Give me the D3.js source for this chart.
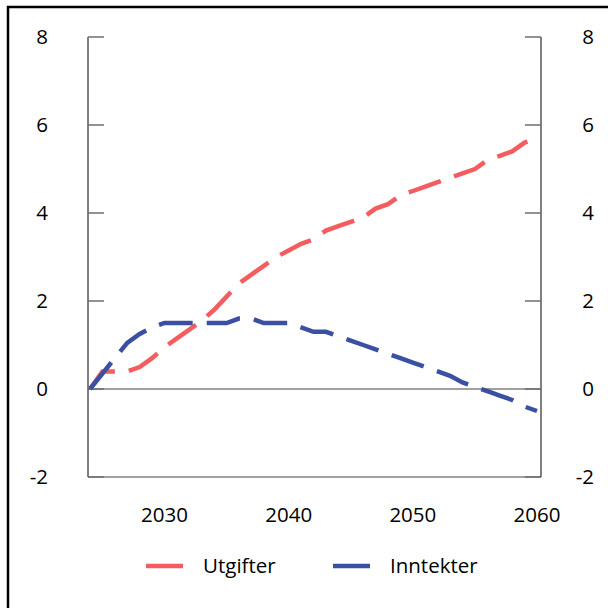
<!DOCTYPE html>
<html>
<head>
<meta charset="utf-8">
<script src="https://cdn.jsdelivr.net/npm/d3@7/dist/d3.min.js"></script>
<style>
  body { margin: 0; background: #fff; }
  svg text { font-family: "Open Sans", sans-serif; fill: #000; }
</style>
</head>
<body>
<svg id="chart" width="608" height="608"></svg>
<script>
var years = d3.range(2024, 2061);
var utgifter = [0, 0.4, 0.4, 0.4, 0.5, 0.7, 0.95, 1.15, 1.35, 1.55, 1.8, 2.1, 2.4, 2.6, 2.8, 3.0, 3.15, 3.3, 3.4, 3.6,
  3.7, 3.8, 3.9, 4.1, 4.2, 4.4, 4.5, 4.6, 4.7, 4.8, 4.9, 5.0, 5.2, 5.3, 5.4, 5.6, 5.7];
var inntekter = [0, 0.35, 0.7, 1.05, 1.25, 1.4, 1.5, 1.5, 1.5, 1.5, 1.5, 1.5, 1.6, 1.6, 1.5, 1.5, 1.5, 1.4, 1.3, 1.3,
  1.2, 1.1, 1.0, 0.9, 0.8, 0.7, 0.6, 0.5, 0.4, 0.3, 0.15, 0.05, -0.05, -0.15, -0.25, -0.4, -0.5];
var yTicks = [-2, 0, 2, 4, 6, 8];
var xTicks = [2030, 2040, 2050, 2060];
var seriesNames = ["Utgifter", "Inntekter"];
var seriesColors = ["#f45d5f", "#3a50a2"];

var svg = d3.select("#chart");
var plotL = 88, plotR = 541, plotT = 37, plotB = 477;
var fs = 20.5;

var x = d3.scaleLinear().domain([2024, 2060]).range([90, 537]);
var y = d3.scaleLinear().domain([-2, 8]).range([plotB, plotT]);

// outer frame
svg.append("rect")
  .attr("x", 8).attr("y", 7).attr("width", 700).attr("height", 700)
  .attr("fill", "none").attr("stroke", "#000").attr("stroke-width", 2.5);

// zero line and bottom line
[0, -2].forEach(function(v){
  svg.append("line")
    .attr("x1", plotL).attr("x2", plotR)
    .attr("y1", y(v)).attr("y2", y(v))
    .attr("stroke", "#808080").attr("stroke-width", 1.5);
});

// left axis
var gl = svg.append("g").attr("transform", "translate(" + plotL + ",0)");
gl.append("line").attr("y1", plotT).attr("y2", plotB).attr("stroke", "#000").attr("stroke-width", 1);
gl.selectAll(".tick").data(yTicks).enter().append("line")
  .attr("x1", 0).attr("x2", 16)
  .attr("y1", function(d){ return y(d); }).attr("y2", function(d){ return y(d); })
  .attr("stroke", "#6e6e6e").attr("stroke-width", 1.5);
svg.selectAll(".ylabL").data(yTicks).enter().append("text")
  .attr("x", 48).attr("y", function(d){ return y(d); })
  .attr("dy", "0.35em").attr("text-anchor", "end")
  .attr("font-size", fs)
  .text(function(d){ return d; });

// right axis
var gr = svg.append("g").attr("transform", "translate(" + plotR + ",0)");
gr.append("line").attr("y1", plotT).attr("y2", plotB).attr("stroke", "#000").attr("stroke-width", 1);
gr.selectAll(".tick").data(yTicks).enter().append("line")
  .attr("x1", 0).attr("x2", -16)
  .attr("y1", function(d){ return y(d); }).attr("y2", function(d){ return y(d); })
  .attr("stroke", "#6e6e6e").attr("stroke-width", 1.5);
svg.selectAll(".ylabR").data(yTicks).enter().append("text")
  .attr("x", 594).attr("y", function(d){ return y(d); })
  .attr("dy", "0.35em").attr("text-anchor", "end")
  .attr("font-size", fs)
  .text(function(d){ return d; });

// x labels
svg.selectAll(".xlab").data(xTicks).enter().append("text")
  .attr("x", function(d){ return x(d); }).attr("y", 515)
  .attr("dy", "0.35em").attr("text-anchor", "middle")
  .attr("font-size", fs)
  .text(function(d){ return d; });

// lines
var line = d3.line()
  .x(function(d, i){ return x(years[i]); })
  .y(function(d){ return y(d); });

[utgifter, inntekter].forEach(function(s, k){
  svg.append("path")
    .datum(s)
    .attr("d", line)
    .attr("fill", "none")
    .attr("stroke", seriesColors[k])
    .attr("stroke-width", 4.5)
    .attr("stroke-dasharray", "34,14");
});

// legend
var legX = [146, 333];
seriesNames.forEach(function(name, k){
  svg.append("line")
    .attr("x1", legX[k]).attr("x2", legX[k] + 37)
    .attr("y1", 566).attr("y2", 566)
    .attr("stroke", seriesColors[k]).attr("stroke-width", 4.5);
  svg.append("text")
    .attr("x", legX[k] + 57).attr("y", 566)
    .attr("dy", "0.35em")
    .attr("font-size", fs)
    .text(name);
});
</script>
</body>
</html>
